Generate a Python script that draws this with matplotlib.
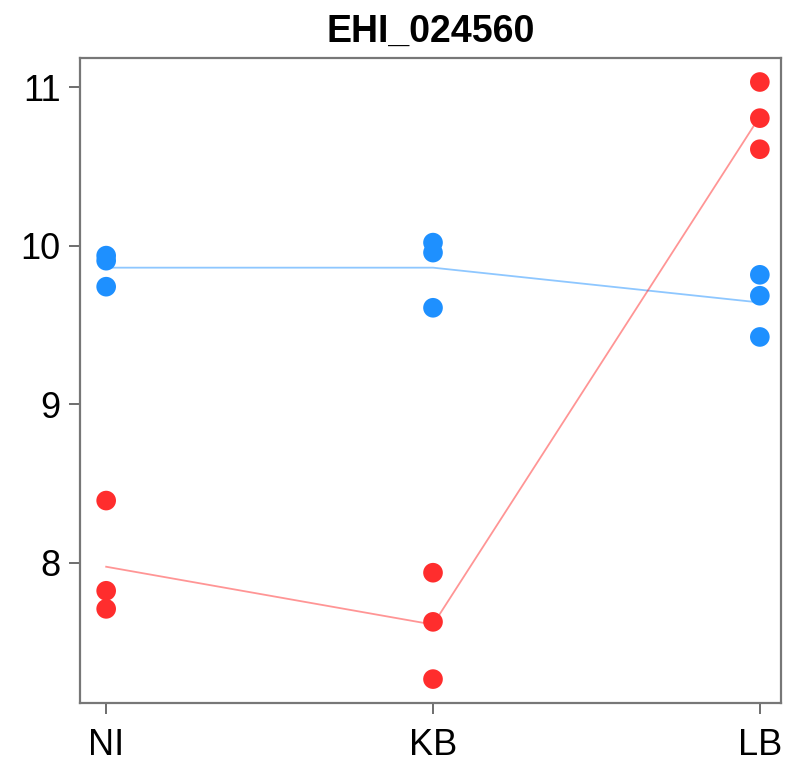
import numpy as np
import matplotlib
matplotlib.use("Agg")
import matplotlib.pyplot as plt

plt.rcParams['font.family'] = ['Liberation Sans', 'DejaVu Sans']

groups = ["NI", "KB", "LB"]
blue_vals = [[9.937, 9.905, 9.741],
             [10.019, 9.956, 9.608],
             [9.816, 9.684, 9.424]]
red_vals = [[8.392, 7.823, 7.709],
            [7.937, 7.627, 7.266],
            [11.032, 10.804, 10.608]]
yticks = [8, 9, 10, 11]

blue = "#1E90FF"
red = "#FF2D2D"


def main():
    fig = plt.figure(figsize=(7.9, 7.66), dpi=100)
    ax = fig.add_axes([0.1013, 0.0822, 0.887, 0.842])

    x = np.arange(1, len(groups) + 1)
    for vals, col in [(blue_vals, blue), (red_vals, red)]:
        arr = np.array(vals)
        ax.plot(x, arr.mean(axis=1), color=col, alpha=0.5, lw=1.3, zorder=2)
        for i, v in enumerate(arr):
            ax.scatter([x[i]] * len(v), v, s=200, color=col, edgecolors='none', zorder=3)

    ax.set_xlim(0.92, 3.064)
    ax.set_ylim(7.115, 11.183)
    ax.set_xticks(x)
    ax.set_xticklabels(groups)
    ax.set_yticks(yticks)
    ax.tick_params(axis='both', labelsize=26, length=8, width=1.2, color='#555555')
    ax.tick_params(axis='x', pad=10)
    ax.tick_params(axis='y', pad=6)
    for s in ax.spines.values():
        s.set_color('#777777')
        s.set_linewidth(1.6)

    ax.set_title("EHI_024560", fontsize=27, fontweight='bold', pad=12)

    fig.savefig("out.png", dpi=100)


if __name__ == "__main__":
    main()
